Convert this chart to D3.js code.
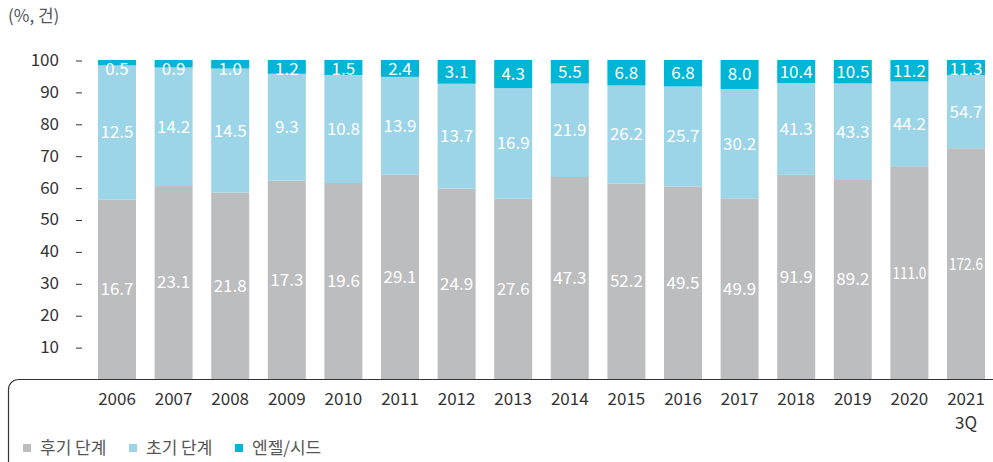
<!DOCTYPE html>
<html><head><meta charset="utf-8">
<script src="https://cdn.jsdelivr.net/npm/d3@7"></script>
<style>
html,body{margin:0;padding:0;background:#fff;}
svg{display:block;font-family:"Noto Sans CJK KR","Noto Sans",sans-serif;}
</style></head>
<body><svg id="c" width="993" height="462"></svg>
<script>
const years = ["2006","2007","2008","2009","2010","2011","2012","2013","2014","2015","2016","2017","2018","2019","2020","2021\n3Q"];
const late  = [16.7,23.1,21.8,17.3,19.6,29.1,24.9,27.6,47.3,52.2,49.5,49.9,91.9,89.2,111.0,172.6];
const early = [12.5,14.2,14.5,9.3,10.8,13.9,13.7,16.9,21.9,26.2,25.7,30.2,41.3,43.3,44.2,54.7];
const angel = [0.5,0.9,1.0,1.2,1.5,2.4,3.1,4.3,5.5,6.8,6.8,8.0,10.4,10.5,11.2,11.3];
const seriesNames = ["후기 단계","초기 단계","엔젤/시드"];
const colors = ["#bcbdbf","#9cd5e7","#00b5d5"];
const yTicks = [10,20,30,40,50,60,70,80,90,100];

const svg = d3.select("#c");
const W = 993, H = 462;
const y = d3.scaleLinear().domain([0,100]).range([379,60]);
const step = 56.6, bw = 38;
const x = d3.scaleBand().domain(years).range([98-(step-bw)/2, 98-(step-bw)/2 + step*years.length])
  .paddingInner((step-bw)/step).paddingOuter((step-bw)/step/2);

const rows = years.map((yr,i)=>{
  const vals=[late[i],early[i],angel[i]];
  const tot=d3.sum(vals);
  const o={year:yr};
  seriesNames.forEach((s,j)=>o[s]=vals[j]/tot*100);
  o.raw=vals;
  return o;
});
const stack = d3.stack().keys(seriesNames)(rows);

// frame
const fr = d3.path();
fr.moveTo(W,379.5); fr.lineTo(18,379.5); fr.arcTo(8.5,379.5,8.5,389,10); fr.lineTo(8.5,H);
svg.append("path").attr("d",fr.toString()).attr("fill","none").attr("stroke","#333").attr("stroke-width",1.2);

// bars
stack.forEach((layer,j)=>{
  const g=svg.append("g");
  g.selectAll("rect").data(layer).join("rect")
    .attr("x",d=>x(d.data.year)).attr("width",x.bandwidth())
    .attr("y",d=>y(d[1])).attr("height",d=>y(d[0])-y(d[1]))
    .attr("fill",colors[j]);
  g.selectAll("text").data(layer).join("text")
    .attr("x",d=>x(d.data.year)+x.bandwidth()/2)
    .attr("y",d=>{let c=(y(d[0])+y(d[1]))/2; if(j===2) c=Math.max(c,y(100)+9.5); return c;})
    .attr("dy","0.35em").attr("text-anchor","middle")
    .attr("fill","#fff").attr("font-size",17)
    .each(function(d){
      const v=d.data.raw[j];
      const t=v.toFixed(1);
      const s=d3.select(this).text(t);
      if(t.length>4){ s.attr("textLength",34).attr("lengthAdjust","spacingAndGlyphs"); }
    });
});

// y axis
const ya = svg.append("g");
yTicks.forEach(t=>{
  ya.append("text").attr("x",59).attr("y",y(t)).attr("dy","0.35em").attr("text-anchor","end")
    .attr("fill","#333").attr("font-size",17).text(t);
  ya.append("line").attr("x1",76).attr("x2",82).attr("y1",y(t)+1).attr("y2",y(t)+1)
    .attr("stroke","#333").attr("stroke-width",1);
});

// x labels
years.forEach(yr=>{
  const parts=yr.split("\n");
  const t=svg.append("text").attr("text-anchor","middle").attr("fill","#333").attr("font-size",17);
  parts.forEach((p,k)=>{
    t.append("tspan").attr("x",x(yr)+x.bandwidth()/2).attr("y",399+k*24).attr("dy","0.35em").text(p);
  });
});

// unit
svg.append("text").attr("x",8).attr("y",16).attr("dy","0.35em").attr("fill","#555").attr("font-size",17).text("(%, 건)");

// legend
const legX=[23,129,235];
seriesNames.forEach((s,j)=>{
  svg.append("rect").attr("x",legX[j]).attr("y",444).attr("width",8).attr("height",8).attr("fill",colors[j]);
  svg.append("text").attr("x",legX[j]+17).attr("y",448).attr("dy","0.35em").attr("fill","#555").attr("font-size",17).text(s);
});
</script></body></html>
